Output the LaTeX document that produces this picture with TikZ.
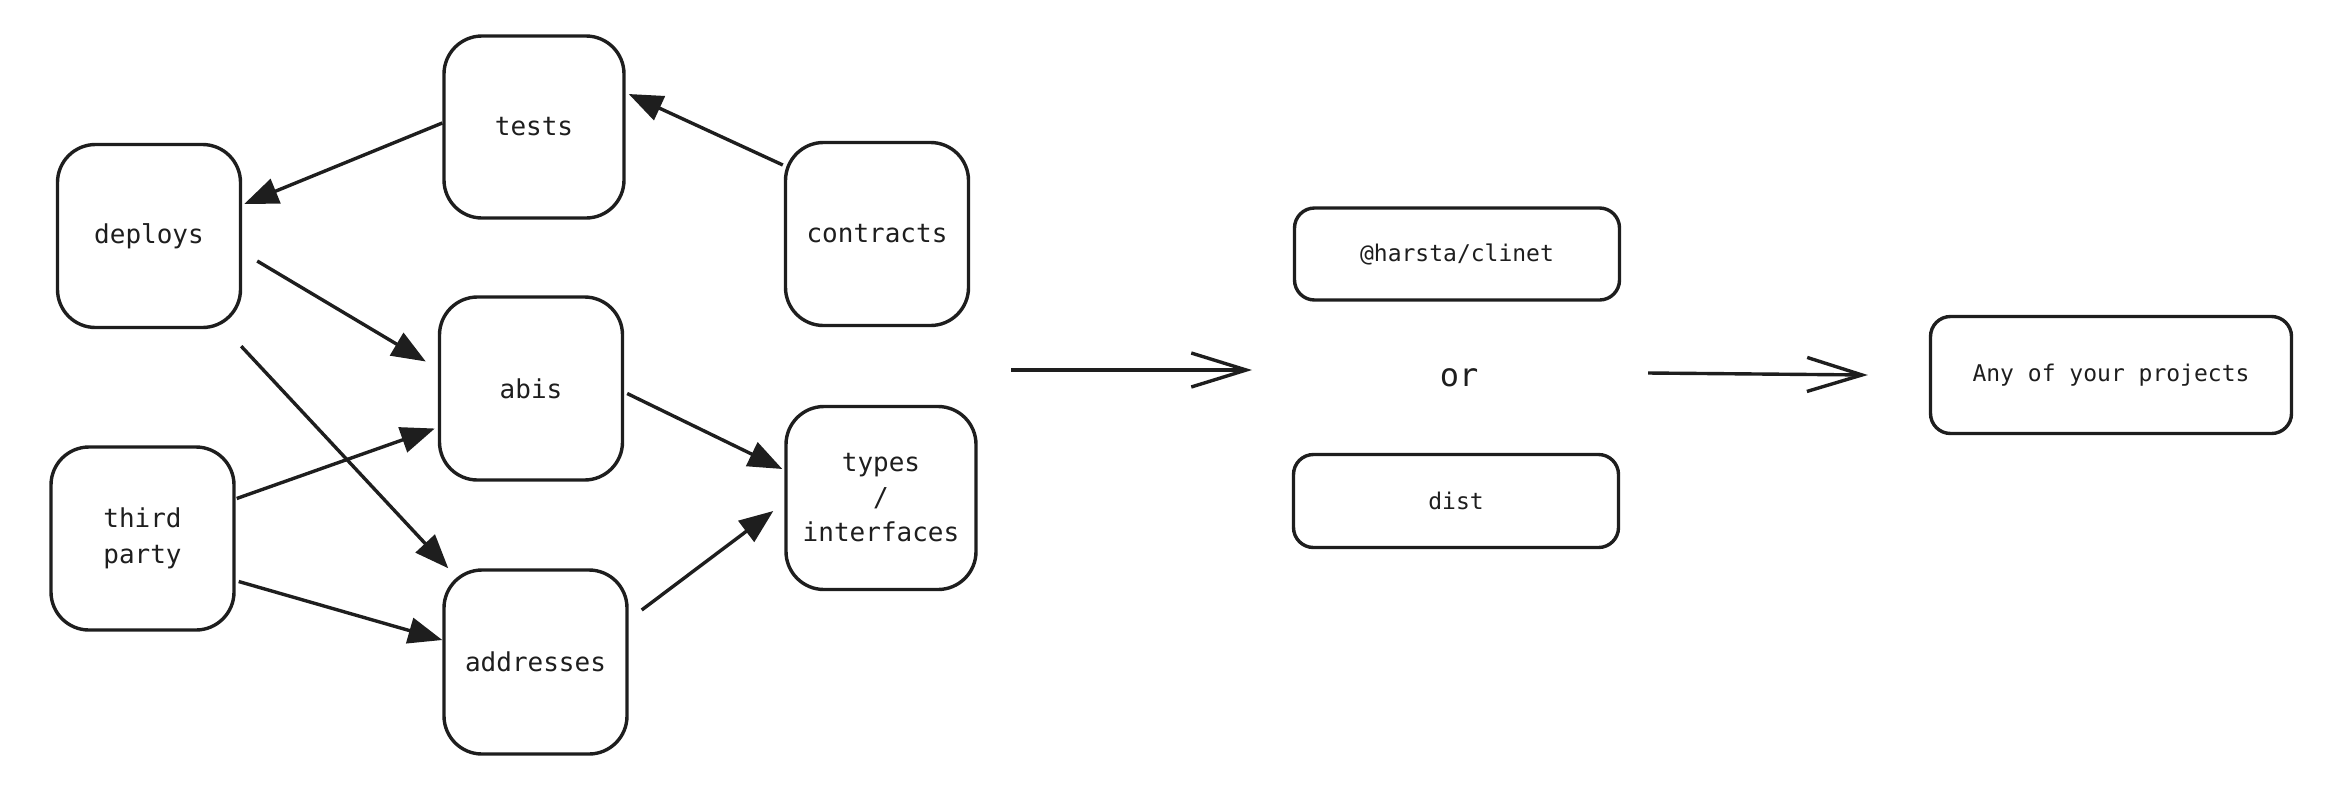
\documentclass[tikz,border=0pt]{standalone}
\usepackage{fontspec}
\newfontfamily\handfont{DejaVu Sans Mono}
\usetikzlibrary{arrows.meta,calc}
\definecolor{ink}{HTML}{1E1E1E}
\tikzset{
  sqbox/.style={draw=ink, line width=3.4pt, rounded corners=38pt, inner sep=0pt,
    minimum width=183pt, minimum height=183pt, align=center,
    font=\handfont\fontsize{26}{36}\selectfont, text=ink},
  widebox/.style={draw=ink, line width=3.4pt, rounded corners=20pt, inner sep=0pt,
    minimum width=325pt, minimum height=92pt, align=center,
    font=\handfont\fontsize{23}{28}\selectfont, text=ink},
  edge/.style={draw=ink, line width=3.4pt, -{Triangle[length=34pt,width=26pt]}},
  bigarrow/.style={draw=ink, line width=3.4pt, -{Straight Barb[length=55pt,width=34pt]}},
}
\begin{document}
\begin{tikzpicture}[x=1pt,y=-1pt]
\useasboundingbox (0,0) rectangle (2352,796);
% nodes
\node[sqbox] (deploys) at (149,236) {deploys};
\node[sqbox, minimum width=180pt, minimum height=182pt] (tests) at (534,127) {tests};
\node[sqbox] (contracts) at (877,234) {contracts};
\node[sqbox] (abis) at (531,388.5) {abis};
\node[sqbox, minimum width=190pt, font=\handfont\fontsize{26}{35}\selectfont] (types) at (881,498) {types\\/\\interfaces};
\node[sqbox] (third) at (142.5,538.5) {third\\party};
\node[sqbox, minimum height=184pt] (addresses) at (535.5,662) {addresses};
\node[widebox] (clinet) at (1457,254) {@harsta/clinet};
\node[font=\handfont\fontsize{32}{36}\selectfont, text=ink] (or) at (1459,378) {or};
\node[widebox, minimum height=93pt] (dist) at (1456,501) {dist};
\node[widebox, minimum width=361pt, minimum height=117pt] (any) at (2111,375) {Any of your projects};
% edges
\draw[edge] ($(tests.west)+(0,-4)$) -- ($(deploys.east)+(2,-32)$);
\draw[edge] ($(contracts.west)+(-1,-69)$) -- ($(tests.east)+(3,-33)$);
\draw[edge] ($(deploys.east)+(15,25)$) -- ($(abis.west)+(-12,-27)$);
\draw[edge] ($(deploys.south east)+(-1,17)$) -- ($(addresses.north west)+(6,0)$);
\draw[edge] ($(third.east)+(1,-40)$) -- ($(abis.west)+(-3,40)$);
\draw[edge] ($(third.east)+(3,43)$) -- ($(addresses.west)+(0,-22)$);
\draw[edge] ($(abis.east)+(3,5)$) -- ($(types.west)+(-2,-29)$);
\draw[edge] ($(addresses.east)+(13,-52)$) -- ($(types.west)+(-11,13)$);
% big arrows
\coordinate (m1a) at (1011,370);
\coordinate (m1b) at (1252,370);
\coordinate (m2a) at (1648,373);
\draw[bigarrow] (m1a) -- (m1b);
\draw[bigarrow] (m2a) -- ($(any.west)+(-61,0)$);
\end{tikzpicture}
\end{document}
